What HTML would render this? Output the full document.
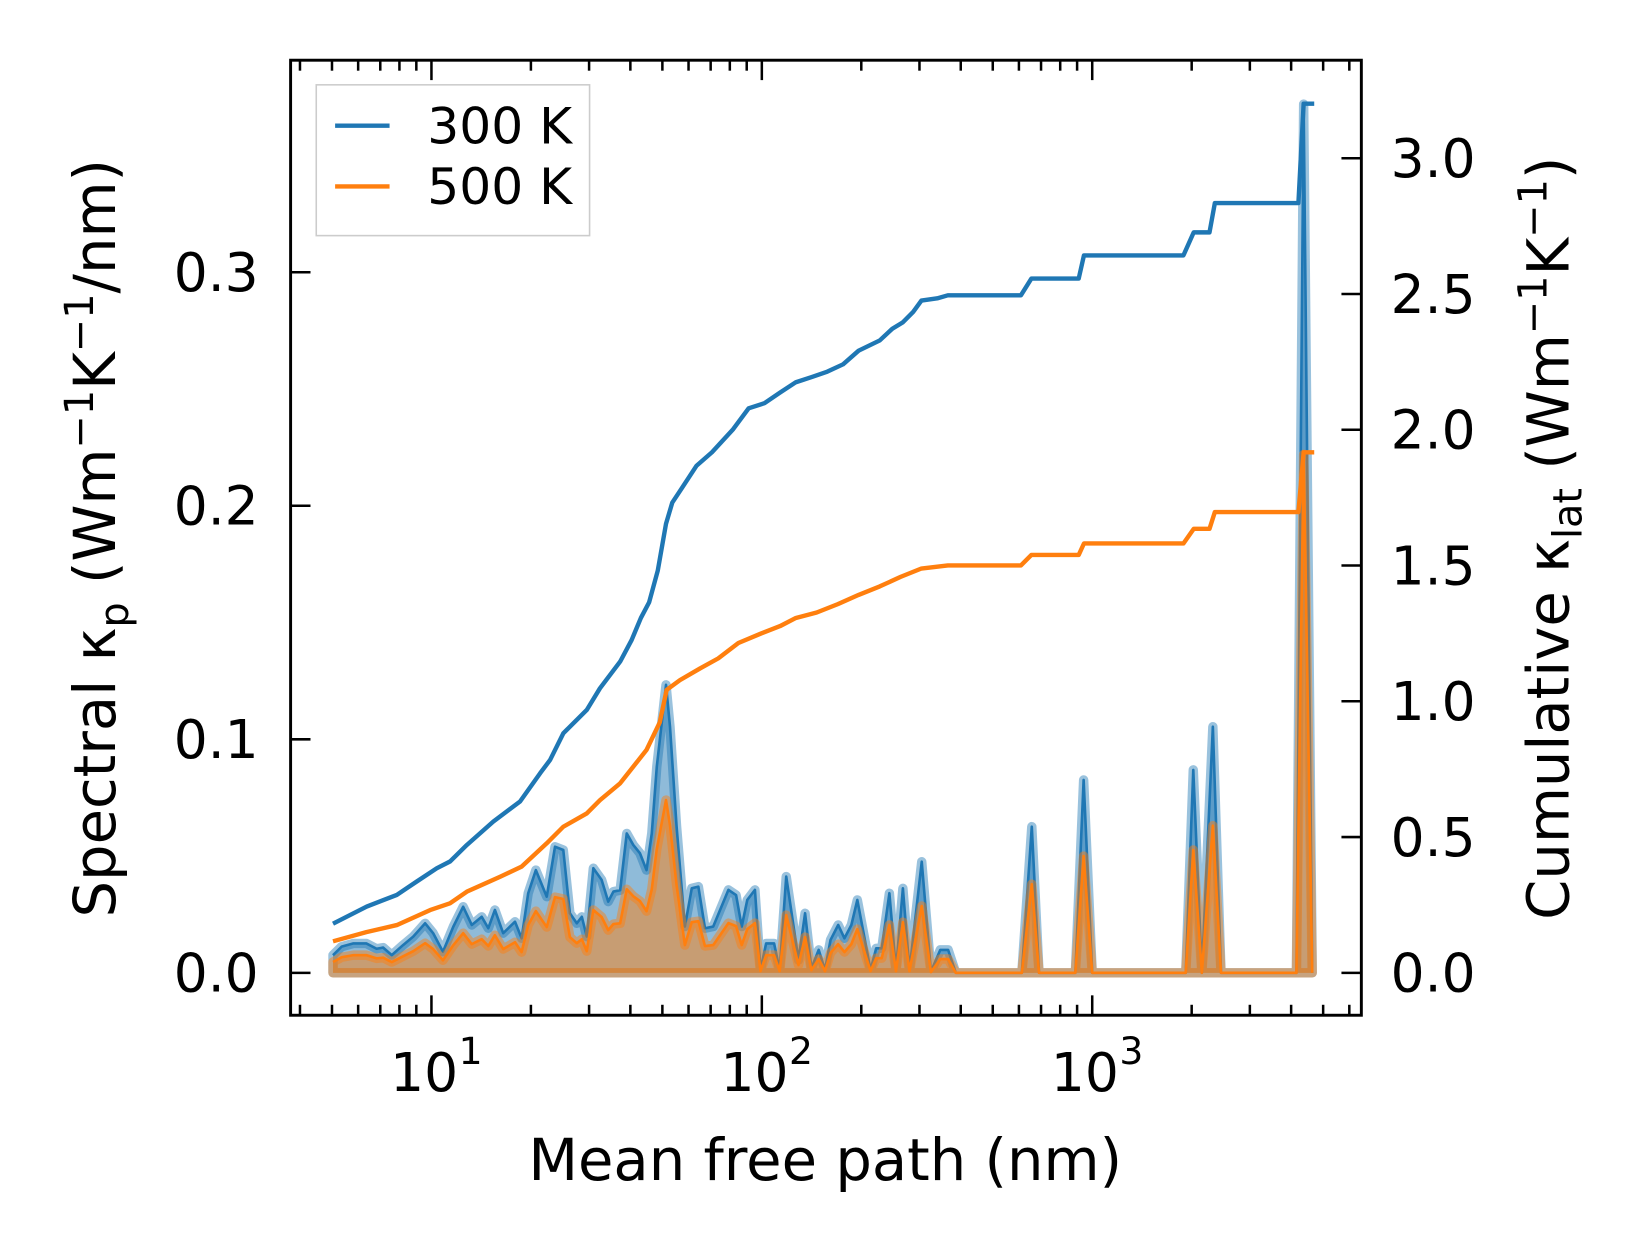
<!DOCTYPE html>
<html>
<head>
<meta charset="utf-8">
<style>
  html,body{margin:0;padding:0;background:#fff;}
  svg{display:block;}
  text{font-family:"DejaVu Sans","Liberation Sans",sans-serif;fill:#000;}
</style>
</head>
<body>
<svg id="chart" width="1642" height="1254" viewBox="0 0 1568 1197.5" xmlns="http://www.w3.org/2000/svg">
  <rect x="0" y="0" width="1568" height="1197.5" fill="#fff"/>
  <g id="marks"></g>
  <g id="axes"></g>
  <g id="legend">
    <rect x="302" y="81" width="261" height="144" fill="#fff" fill-opacity="0.8" stroke="#cccccc" stroke-width="1.5"/>
    <g>
      <line x1="320" y1="120" x2="372" y2="120" stroke="#1f77b4" stroke-width="4.2"/>
      <text x="408" y="137" font-size="48">300 K</text>
    </g>
    <g>
      <line x1="320" y1="178" x2="372" y2="178" stroke="#ff7f0e" stroke-width="4.2"/>
      <text x="408" y="195" font-size="48">500 K</text>
    </g>
  </g>
</svg>
<script>
// log10(mean free path, nm) sample positions for spectral data
const specLogX = [0.702,0.728,0.764,0.803,0.834,0.854,0.880,0.914,0.945,0.981,1.005,1.035,1.066,1.096,1.122,1.152,1.172,1.192,1.217,1.253,1.273,1.293,1.316,1.349,1.374,1.399,1.419,1.440,1.455,1.470,1.490,1.515,1.535,1.551,1.571,1.591,1.611,1.631,1.651,1.667,1.682,1.710,1.722,1.742,1.767,1.788,1.808,1.828,1.853,1.899,1.922,1.939,1.956,1.979,1.996,2.013,2.037,2.054,2.074,2.111,2.131,2.150,2.172,2.191,2.208,2.231,2.250,2.271,2.289,2.329,2.346,2.363,2.386,2.406,2.427,2.447,2.484,2.512,2.540,2.564,2.587,2.787,2.817,2.839,2.949,2.974,3.000,3.283,3.306,3.332,3.365,3.390,3.618,3.640,3.666];
// spectral kappa 300 K (W/m/K/nm)
const spec300 = [0.0076,0.0112,0.0126,0.0126,0.0103,0.0108,0.0076,0.0119,0.0155,0.0212,0.0170,0.0090,0.0197,0.0283,0.0205,0.0240,0.0191,0.0269,0.0170,0.0219,0.0148,0.0341,0.0440,0.0326,0.0540,0.0526,0.0255,0.0212,0.0240,0.0155,0.0448,0.0398,0.0305,0.0348,0.0354,0.0597,0.0547,0.0512,0.0440,0.0597,0.0883,0.1233,0.1054,0.0626,0.0198,0.0362,0.0369,0.0191,0.0198,0.0355,0.0333,0.0198,0.0312,0.0355,0.0012,0.0126,0.0126,0.0012,0.0412,0.0055,0.0255,0.0019,0.0098,0.0012,0.0141,0.0205,0.0148,0.0205,0.0312,0.0012,0.0105,0.0105,0.0341,0.0012,0.0362,0.0012,0.0476,0.0005,0.0098,0.0098,0,0,0.0626,0,0,0.0826,0,0,0.0869,0,0.1054,0,0,0.372,0];
// spectral kappa 500 K
const spec500 = [0.0046,0.0067,0.0076,0.0076,0.0062,0.0065,0.0046,0.0071,0.0093,0.0127,0.0102,0.0054,0.0118,0.0170,0.0123,0.0144,0.0115,0.0161,0.0102,0.0131,0.0089,0.0205,0.0264,0.0196,0.0324,0.0316,0.0153,0.0127,0.0144,0.0093,0.0269,0.0239,0.0183,0.0209,0.0212,0.0358,0.0328,0.0307,0.0264,0.0358,0.0530,0.0740,0.0632,0.0376,0.0119,0.0217,0.0221,0.0115,0.0119,0.0213,0.0200,0.0119,0.0187,0.0213,0.0007,0.0076,0.0076,0.0007,0.0247,0.0033,0.0153,0.0011,0.0059,0.0007,0.0085,0.0123,0.0089,0.0123,0.0187,0.0007,0.0063,0.0063,0.0205,0.0007,0.0217,0.0007,0.0286,0.0003,0.0059,0.0059,0,0,0.0380,0,0,0.0500,0,0,0.0526,0,0.0630,0,0,0.222,0];
// cumulative kappa 300 K
const cumLogX300 = [0.702,0.804,0.895,0.955,1.016,1.056,1.107,1.187,1.268,1.329,1.359,1.399,1.470,1.510,1.571,1.606,1.634,1.659,1.685,1.710,1.729,1.754,1.802,1.849,1.913,1.960,2.008,2.055,2.103,2.151,2.198,2.246,2.293,2.357,2.395,2.426,2.458,2.483,2.531,2.563,2.784,2.816,2.959,2.975,3.276,3.307,3.355,3.371,3.624,3.640,3.672];
const cum300 = [0.181,0.244,0.287,0.336,0.385,0.410,0.471,0.557,0.631,0.735,0.784,0.882,0.968,1.048,1.146,1.226,1.307,1.365,1.481,1.654,1.732,1.778,1.867,1.917,2.002,2.079,2.098,2.137,2.175,2.194,2.214,2.241,2.291,2.329,2.372,2.395,2.434,2.476,2.484,2.495,2.495,2.557,2.557,2.642,2.642,2.727,2.727,2.835,2.835,3.201,3.201];
// cumulative kappa 500 K
const cumLogX500 = [0.702,0.803,0.895,0.996,1.056,1.107,1.208,1.273,1.349,1.399,1.470,1.510,1.571,1.651,1.691,1.712,1.752,1.813,1.868,1.929,1.998,2.055,2.103,2.166,2.230,2.293,2.357,2.420,2.483,2.563,2.784,2.816,2.959,2.975,3.276,3.307,3.355,3.371,3.624,3.640,3.672];
const cum500 = [0.116,0.150,0.176,0.231,0.256,0.299,0.354,0.391,0.477,0.538,0.587,0.636,0.698,0.821,0.922,1.042,1.078,1.121,1.158,1.215,1.250,1.277,1.307,1.327,1.358,1.392,1.423,1.458,1.489,1.500,1.500,1.539,1.539,1.581,1.581,1.635,1.635,1.697,1.697,1.917,1.917];
// ticks
const xMajorExp = [1,2,3];
const leftTicks = [0.0,0.1,0.2,0.3];
const rightTicks = [0.0,0.5,1.0,1.5,2.0,2.5,3.0];

const NS = "http://www.w3.org/2000/svg";
const AX = {l:277.5, r:1300, t:57.5, b:969.5};
function X(logv){ return 412 + (logv - 1) * 315.5; }
function YL(v){ return 929 - v * 2230; }
function YR(v){ return 929 - v * 259.3; }
function mk(tag, attrs, parent){
  const e = document.createElementNS(NS, tag);
  for (const k in attrs) e.setAttribute(k, attrs[k]);
  parent.appendChild(e);
  return e;
}
const marks = document.getElementById('marks');
const axes = document.getElementById('axes');

function drawSpectral(vals, color, name){
  let pts = specLogX.map((lx,i)=>X(lx).toFixed(1)+','+YL(vals[i]).toFixed(1));
  const poly = 'M'+X(specLogX[0]).toFixed(1)+','+YL(0)+' L'+pts.join(' L')+' L'+X(specLogX[specLogX.length-1]).toFixed(1)+','+YL(0)+' Z';
  const a = mk('path', {d:poly, fill:color, 'fill-opacity':0.5, stroke:color, 'stroke-opacity':0.45, 'stroke-width':9, 'stroke-linejoin':'round'}, marks);
  
  
  const l = mk('polyline', {points:pts.join(' '), fill:'none', stroke:color, 'stroke-width':2.5, 'stroke-linejoin':'round'}, marks);
  
  
}
function drawCum(lxs, vals, color, name){
  const pts = lxs.map((lx,i)=>X(lx).toFixed(1)+','+YR(vals[i]).toFixed(1)).join(' ');
  const l = mk('polyline', {points:pts, fill:'none', stroke:color, 'stroke-width':4.2, 'stroke-linejoin':'round'}, marks);
  
  
}
drawSpectral(spec300, '#1f77b4', 'spectral-300k');
drawSpectral(spec500, '#ff7f0e', 'spectral-500k');
drawCum(cumLogX300, cum300, '#1f77b4', 'cumulative-300k');
drawCum(cumLogX500, cum500, '#ff7f0e', 'cumulative-500k');

// frame
const frame = mk('rect', {x:AX.l, y:AX.t, width:AX.r-AX.l, height:AX.b-AX.t, fill:'none', stroke:'#000', 'stroke-width':2.8}, axes);



// x ticks
const xminL = 1 + (AX.l - 412)/315.5, xmaxL = 1 + (AX.r - 412)/315.5;
for (let d = 0; d <= 3; d++){
  for (let m = 1; m <= 9; m++){
    const lv = d + Math.log10(m);
    if (lv < xminL || lv > xmaxL) continue;
    const px = X(lv), len = (m===1) ? 19 : 10;
    mk('line', {x1:px, y1:AX.b, x2:px, y2:AX.b-len, stroke:'#000', 'stroke-width':2.4}, axes);
    mk('line', {x1:px, y1:AX.t, x2:px, y2:AX.t+len, stroke:'#000', 'stroke-width':2.4}, axes);
  }
}
xMajorExp.forEach(e=>{
  const t = mk('text', {x:X(e)-7, y:1042, 'font-size':51, 'text-anchor':'middle'}, axes);
  
  
  t.textContent = '10';
  const s = mk('text', {x:X(e)+26, y:1016, 'font-size':36}, axes);
  
  
  s.textContent = String(e);
});
// left ticks
leftTicks.forEach(v=>{
  const py = YL(v);
  mk('line', {x1:AX.l, y1:py, x2:AX.l+19, y2:py, stroke:'#000', 'stroke-width':2.4}, axes);
  const t = mk('text', {x:247, y:py+18, 'font-size':51, 'text-anchor':'end'}, axes);
  
  
  t.textContent = v.toFixed(1);
});
// right ticks
rightTicks.forEach(v=>{
  const py = YR(v);
  mk('line', {x1:AX.r, y1:py, x2:AX.r-19, y2:py, stroke:'#000', 'stroke-width':2.4}, axes);
  const t = mk('text', {x:1328, y:py+18, 'font-size':51}, axes);
  
  
  t.textContent = v.toFixed(1);
});
</script>
<script>
(function(){
  const svg = document.getElementById('chart');
  const NS = "http://www.w3.org/2000/svg";
  function txt(html, attrs, name){
    const t = document.createElementNS(NS,'text');
    for (const k in attrs) t.setAttribute(k, attrs[k]);
    t.innerHTML = html;
    
    
    svg.appendChild(t);
  }
  txt('Mean free path (nm)', {x:788, y:1127, 'font-size':55, 'text-anchor':'middle'}, 'x-axis-title');
  txt('Spectral κ<tspan font-size="38" dy="12">p</tspan><tspan dy="-12"> (Wm</tspan><tspan font-size="38" dy="-21">−1</tspan><tspan dy="21">K</tspan><tspan font-size="38" dy="-21">−1</tspan><tspan dy="21">/nm)</tspan>',
      {x:0, y:0, 'font-size':55, 'text-anchor':'middle', transform:'translate(110,514) rotate(-90)'}, 'left-y-axis-title');
  txt('Cumulative κ<tspan font-size="38" dy="12">lat</tspan><tspan dy="-12"> (Wm</tspan><tspan font-size="38" dy="-21">−1</tspan><tspan dy="21">K</tspan><tspan font-size="38" dy="-21">−1</tspan><tspan dy="21">)</tspan>',
      {x:0, y:0, 'font-size':55, 'text-anchor':'middle', transform:'translate(1498,514) rotate(-90)'}, 'right-y-axis-title');
})();
</script>
</body>
</html>
